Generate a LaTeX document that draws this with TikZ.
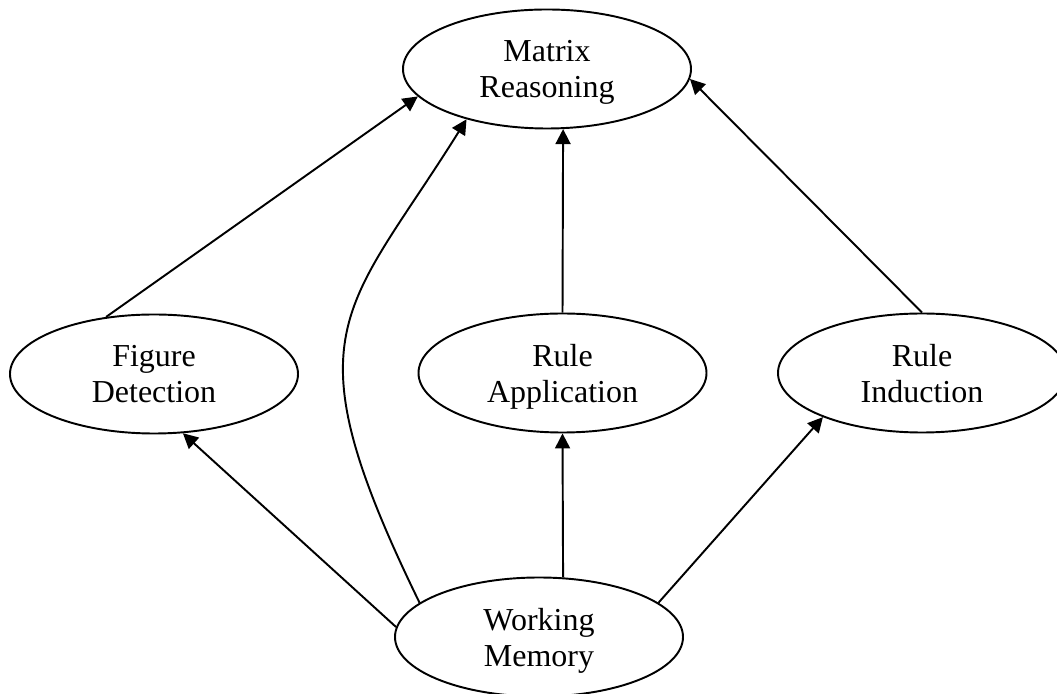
\documentclass[tikz,border=0pt]{standalone}
\usepackage{fontspec}
\setmainfont{Liberation Serif}
\usetikzlibrary{shapes.geometric,arrows.meta}

\begin{document}
\begin{tikzpicture}[
  construct/.style={ellipse, draw, line width=1.1pt, minimum width=5.76cm,
                    minimum height=2.38cm, inner sep=0pt, align=center,
                    text depth=0pt, font=\fontsize{18.2}{20.5}\selectfont},
  link/.style={draw, line width=1.1pt,
               -{Triangle[length=0.3cm, width=0.3cm]}},
]
  \useasboundingbox (0,0) rectangle (21.14,13.86);

  % ===== Constructs =====
  \node[construct] (reasoning)   at (10.94,12.48) {Matrix\\Reasoning};
  \node[construct] (figure)      at (3.08,6.38)   {Figure\\Detection};
  \node[construct] (application) at (11.25,6.40)  {Rule\\Application};
  \node[construct] (induction)   at (18.44,6.40)  {Rule\\Induction};
  \node[construct] (memory)      at (10.78,1.12)  {Working\\Memory};

  % ===== Paths into Matrix Reasoning =====
  \draw[link] (figure.130) -- (reasoning.192);
  \draw[link] (application.north) -- (reasoning.285);
  \draw[link] (induction.north) -- (reasoning.356);
  \draw[link] (memory.164) to[out=116, in=238, out distance=6.08cm,
                              in distance=4.6cm] (reasoning.212);

  % ===== Paths from Working Memory =====
  \draw[link] (memory.176) -- (figure.296);
  \draw[link] (memory.68) -- (application.south);
  \draw[link] (memory.16) -- (induction.204);
\end{tikzpicture}
\end{document}
